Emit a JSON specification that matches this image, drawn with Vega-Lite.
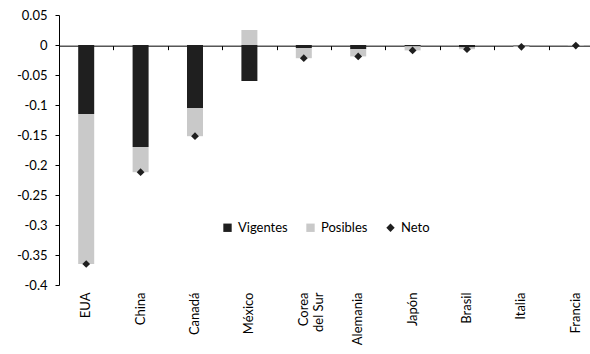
{
  "$schema": "https://vega.github.io/schema/vega-lite/v6.json",
  "autosize": "none",
  "width": 544,
  "height": 270,
  "padding": {"left": 59, "top": 15, "right": 0, "bottom": 69},
  "background": "white",
  "config": {
    "font": "Lato",
    "view": {"stroke": null},
    "axis": {"labelFont": "Lato", "labelFontSize": 13, "labelColor": "#000", "domainColor": "#000", "tickColor": "#000", "titleFont": "Lato"}
  },
  "data": {
    "values": [
      {"pais": "EUA", "serie": "Vigentes", "valor": -0.115},
      {"pais": "EUA", "serie": "Posibles", "valor": -0.25},
      {"pais": "EUA", "serie": "Neto", "valor": -0.365},
      {"pais": "China", "serie": "Vigentes", "valor": -0.17},
      {"pais": "China", "serie": "Posibles", "valor": -0.042},
      {"pais": "China", "serie": "Neto", "valor": -0.212},
      {"pais": "Canadá", "serie": "Vigentes", "valor": -0.105},
      {"pais": "Canadá", "serie": "Posibles", "valor": -0.047},
      {"pais": "Canadá", "serie": "Neto", "valor": -0.152},
      {"pais": "México", "serie": "Vigentes", "valor": -0.06},
      {"pais": "México", "serie": "Posibles", "valor": 0.025},
      {"pais": "México", "serie": "Neto", "valor": -0.035},
      {"pais": "Corea del Sur", "serie": "Vigentes", "valor": -0.005},
      {"pais": "Corea del Sur", "serie": "Posibles", "valor": -0.017},
      {"pais": "Corea del Sur", "serie": "Neto", "valor": -0.022},
      {"pais": "Alemania", "serie": "Vigentes", "valor": -0.007},
      {"pais": "Alemania", "serie": "Posibles", "valor": -0.012},
      {"pais": "Alemania", "serie": "Neto", "valor": -0.019},
      {"pais": "Japón", "serie": "Vigentes", "valor": -0.002},
      {"pais": "Japón", "serie": "Posibles", "valor": -0.007},
      {"pais": "Japón", "serie": "Neto", "valor": -0.009},
      {"pais": "Brasil", "serie": "Vigentes", "valor": -0.004},
      {"pais": "Brasil", "serie": "Posibles", "valor": -0.003},
      {"pais": "Brasil", "serie": "Neto", "valor": -0.007},
      {"pais": "Italia", "serie": "Vigentes", "valor": -0.001},
      {"pais": "Italia", "serie": "Posibles", "valor": -0.002},
      {"pais": "Italia", "serie": "Neto", "valor": -0.003},
      {"pais": "Francia", "serie": "Vigentes", "valor": 0},
      {"pais": "Francia", "serie": "Posibles", "valor": -0.001},
      {"pais": "Francia", "serie": "Neto", "valor": -0.001}
    ]
  },
  "resolve": {"axis": {"x": "independent"}},
  "layer": [
    {
      "transform": [{"filter": "datum.serie != 'Neto'"}],
      "mark": {"type": "bar", "width": 16},
      "encoding": {
        "x": {"field": "pais", "type": "nominal", "sort": null,
          "scale": {"paddingInner": 0, "paddingOuter": 0},
          "axis": {"title": null, "orient": "bottom", "labelAngle": -90, "labelPadding": 7, "ticks": false, "domain": false,
            "labelExpr": "datum.value == 'Corea del Sur' ? ['Corea', 'del Sur'] : datum.value", "labelLineHeight": 15}},
        "y": {
          "field": "valor", "type": "quantitative", "stack": "zero",
          "scale": {"domain": [-0.4, 0.05], "nice": false},
          "axis": {"title": null, "grid": false, "values": [0.05, 0, -0.05, -0.1, -0.15, -0.2, -0.25, -0.3, -0.35, -0.4],
            "labelExpr": "replace(format(datum.value, '~g'), '−', '-')", "tickSize": 4, "ticks": true, "labelPadding": 8, "labelOverlap": false}
        },
        "color": {
          "field": "serie", "type": "nominal",
          "scale": {"domain": ["Vigentes", "Posibles", "Neto"], "range": ["#1f1f1f", "#c9c9c9", "#1f1f1f"]},
          "legend": {"title": null, "orient": "none", "legendX": 162, "legendY": 206, "direction": "horizontal",
            "labelFont": "Lato", "labelFontSize": 13, "labelColor": "#000", "symbolSize": 70, "columnPadding": 16, "symbolStrokeWidth": 0}
        },
        "order": {"field": "serie", "sort": "descending"}
      }
    },
    {
      "transform": [{"filter": "datum.serie == 'Neto'"}],
      "mark": {"type": "point", "filled": true, "size": 60, "opacity": 1},
      "encoding": {
        "x": {"field": "pais", "type": "nominal", "sort": null,
          "axis": {"title": null, "orient": "top", "labels": false, "ticks": true, "tickBand": "extent", "tickSize": -4, "domain": true, "offset": -30.67}},
        "y": {"field": "valor", "type": "quantitative",
          "axis": {"title": null, "grid": false, "values": [0.05, 0, -0.05, -0.1, -0.15, -0.2, -0.25, -0.3, -0.35, -0.4],
            "labelExpr": "replace(format(datum.value, '~g'), '−', '-')", "tickSize": 4, "ticks": true, "labelPadding": 8, "labelOverlap": false}},
        "color": {"field": "serie", "type": "nominal"},
        "shape": {"field": "serie", "type": "nominal",
          "scale": {"domain": ["Vigentes", "Posibles", "Neto"], "range": ["square", "square", "diamond"]}}
      }
    }
  ]
}
